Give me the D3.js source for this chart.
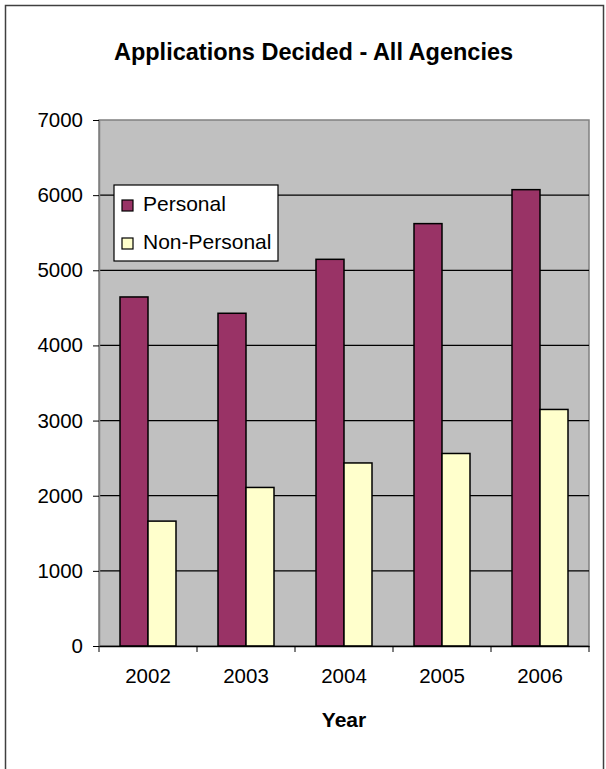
<!DOCTYPE html>
<html>
<head>
<meta charset="utf-8">
<script src="https://cdn.jsdelivr.net/npm/d3@7"></script>
<style>
  body { margin: 0; background: #fff; }
  text { font-family: "Liberation Sans", Arial, sans-serif; fill: #000; }
</style>
</head>
<body>
<script>
const years = ["2002", "2003", "2004", "2005", "2006"];
const personal = [4645, 4428, 5146, 5621, 6073];
const nonPersonal = [1662, 2110, 2436, 2562, 3148];
const seriesNames = ["Personal", "Non-Personal"];
const yTicks = [0, 1000, 2000, 3000, 4000, 5000, 6000, 7000];

const width = 606;
const height = 769;
const marginTop = 120;
const marginRight = 17;
const marginBottom = 123;
const marginLeft = 99;

const x = d3.scaleBand()
    .domain(years)
    .range([marginLeft, width - marginRight])
    .paddingInner(0)
    .paddingOuter(0);

// excel style: two bars + 150% gap per category
const barW = x.bandwidth() / 3.5;

const y = d3.scaleLinear()
    .domain([0, 7000])
    .range([height - marginBottom, marginTop]);

const color = d3.scaleOrdinal()
    .domain(seriesNames)
    .range(["#993366", "#FFFFCC"]);

const svg = d3.create("svg")
    .attr("width", width)
    .attr("height", height)
    .attr("viewBox", `0 0 ${width} ${height}`);

// chart area border
svg.append("rect")
    .attr("x", 5.5)
    .attr("y", 5.5)
    .attr("width", 598)
    .attr("height", 800)
    .attr("fill", "#fff")
    .attr("stroke", "#404040")
    .attr("stroke-width", 1.5);

// plot area
svg.append("rect")
    .attr("x", marginLeft)
    .attr("y", marginTop)
    .attr("width", width - marginRight - marginLeft)
    .attr("height", height - marginBottom - marginTop)
    .attr("fill", "#C0C0C0")
    .attr("stroke", "#808080")
    .attr("stroke-width", 1.5);

// gridlines
svg.append("g")
    .selectAll("line")
    .data(yTicks.filter(d => d > 0 && d < 7000))
    .join("line")
    .attr("x1", marginLeft)
    .attr("x2", width - marginRight)
    .attr("y1", d => y(d))
    .attr("y2", d => y(d))
    .attr("stroke", "#000")
    .attr("stroke-width", 1.2);

// bars
const rows = years.map((yr, i) => ({ year: yr, values: [personal[i], nonPersonal[i]] }));

svg.append("g")
    .selectAll("g")
    .data(rows)
    .join("g")
    .attr("transform", d => `translate(${x(d.year) + 0.75 * barW},0)`)
    .selectAll("rect")
    .data(d => d.values.map((v, j) => ({ key: seriesNames[j], value: v, j })))
    .join("rect")
    .attr("x", d => d.j * barW)
    .attr("y", d => y(d.value))
    .attr("width", barW)
    .attr("height", d => y(0) - y(d.value))
    .attr("fill", d => color(d.key))
    .attr("stroke", "#000")
    .attr("stroke-width", 1.5);

// y axis
const yAxis = svg.append("g")
    .attr("transform", `translate(${marginLeft},0)`)
    .call(d3.axisLeft(y).tickValues(yTicks).tickFormat(d3.format("d"))
        .tickSize(6).tickPadding(10).tickSizeOuter(0));
yAxis.select(".domain").attr("stroke", "#808080").attr("stroke-width", 1.5);
yAxis.selectAll(".tick line").attr("stroke", "#000");
yAxis.selectAll("text").style("font-size", "20.5px");

// x axis
const xAxis = svg.append("g")
    .attr("transform", `translate(0,${height - marginBottom})`)
    .call(d3.axisBottom(x).tickSize(0).tickPadding(22));
xAxis.select(".domain").attr("stroke", "#000").attr("stroke-width", 1.5);
xAxis.selectAll("text").style("font-size", "20.5px");

// category separator ticks
svg.append("g")
    .selectAll("line")
    .data(years.concat(["end"]))
    .join("line")
    .attr("x1", d => d === "end" ? width - marginRight : x(d))
    .attr("x2", d => d === "end" ? width - marginRight : x(d))
    .attr("y1", height - marginBottom)
    .attr("y2", height - marginBottom + 6)
    .attr("stroke", "#000");

// title
svg.append("text")
    .attr("x", 313.5)
    .attr("y", 60)
    .attr("text-anchor", "middle")
    .style("font-size", "23.5px")
    .style("font-weight", "bold")
    .text("Applications Decided - All Agencies");

// axis title
svg.append("text")
    .attr("x", (marginLeft + width - marginRight) / 2)
    .attr("y", 727)
    .attr("text-anchor", "middle")
    .style("font-size", "21px")
    .style("font-weight", "bold")
    .text("Year");

// legend
const legend = svg.append("g")
    .attr("transform", "translate(114,185)");

legend.append("rect")
    .attr("width", 164)
    .attr("height", 76)
    .attr("fill", "#fff")
    .attr("stroke", "#000")
    .attr("stroke-width", 1.2);

legend.selectAll("g")
    .data(seriesNames)
    .join("g")
    .attr("transform", (d, i) => `translate(8,${15 + i * 38})`)
    .each(function(d) {
        d3.select(this)
            .append("rect")
            .attr("width", 11)
            .attr("height", 11)
            .attr("fill", color(d))
            .attr("stroke", "#000")
            .attr("stroke-width", 1.2);
        d3.select(this)
            .append("text")
            .attr("x", 21)
            .attr("y", 11)
            .style("font-size", "21px")
            .text(d);
    });

document.body.appendChild(svg.node());
</script>
</body>
</html>
